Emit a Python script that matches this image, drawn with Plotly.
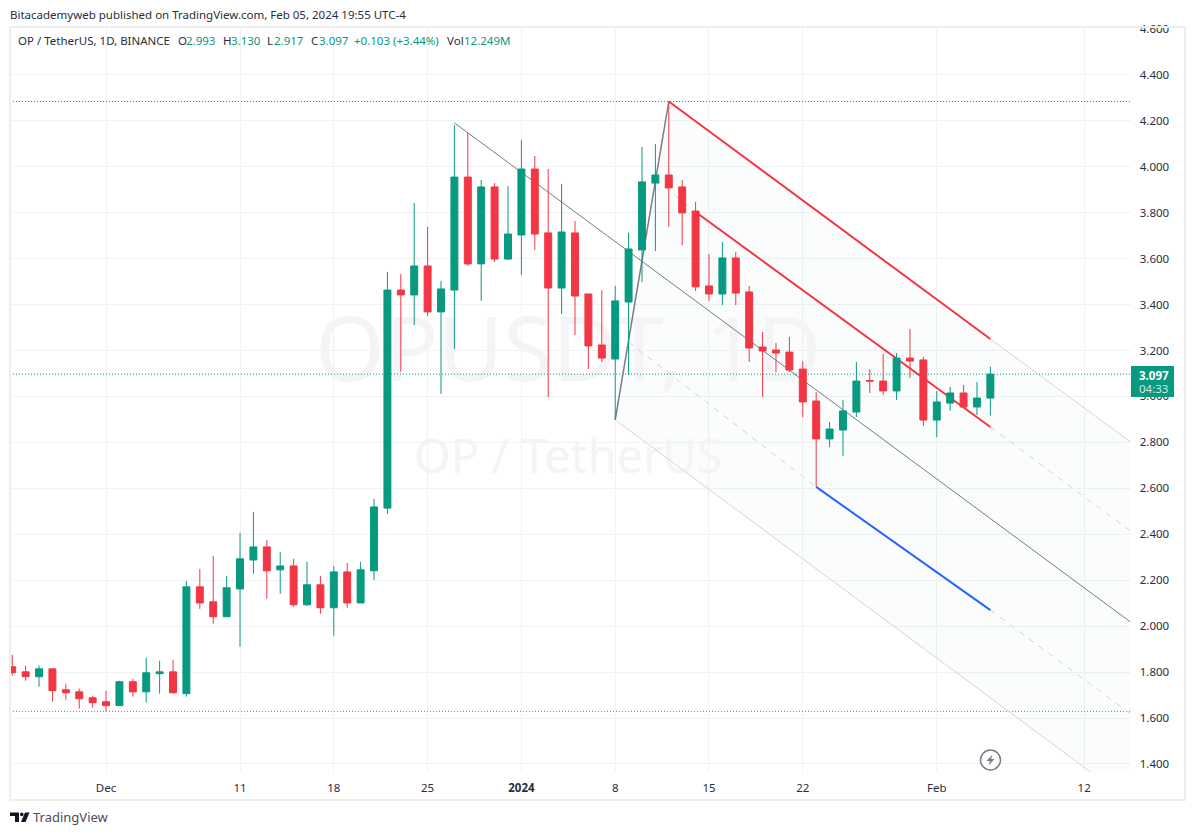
"""
OP / TetherUS daily candles with a pitchfork drawing, TradingView look
"""

import pandas as pd
import plotly.graph_objects as go

W, H = 1195, 835
UP = '#089981'
DOWN = '#F23645'
GRID = '#f1f2f4'
FRAME = '#eeeeee'
TEXT = '#2a2e39'
FONT = 'Noto Sans'

dates = pd.date_range('2023-11-24', periods=74, freq='D')
opens = [1.823, 1.801, 1.780, 1.814, 1.723, 1.714, 1.688, 1.671, 1.654, 1.758,
         1.714, 1.793, 1.801, 1.706, 2.171, 2.106, 2.041, 2.162, 2.288, 2.345,
         2.245, 2.262, 2.093, 2.180, 2.080, 2.236, 2.101, 2.241, 2.514, 3.463,
         3.442, 3.568, 3.368, 3.463, 3.955, 3.577, 3.912, 3.598, 3.703, 3.990,
         3.712, 3.472, 3.712, 3.446, 3.224, 3.163, 3.411, 3.638, 3.929, 3.964,
         3.912, 3.807, 3.481, 3.446, 3.603, 3.455, 3.215, 3.202, 3.193, 3.119,
         2.980, 2.815, 2.854, 2.932, 3.069, 3.067, 3.024, 3.167, 3.159, 2.897,
         2.971, 3.015, 2.954, 2.993]
highs = [1.875, 1.828, 1.828, 1.814, 1.749, 1.728, 1.697, 1.719, 1.762, 1.771,
         1.862, 1.849, 1.854, 2.197, 2.249, 2.306, 2.219, 2.406, 2.497, 2.375,
         2.323, 2.293, 2.280, 2.219, 2.262, 2.275, 2.280, 2.554, 3.542, 3.533,
         3.842, 3.738, 3.503, 4.182, 4.147, 3.942, 3.929, 3.916, 4.117, 4.047,
         3.990, 3.925, 3.764, 3.446, 3.463, 3.481, 3.712, 4.086, 4.099, 4.284,
         3.942, 3.847, 3.620, 3.672, 3.629, 3.481, 3.281, 3.233, 3.259, 3.154,
         3.019, 2.889, 2.984, 3.150, 3.119, 3.185, 3.189, 3.294, 3.172, 3.024,
         3.041, 3.050, 3.063, 3.130]
lows = [1.784, 1.762, 1.736, 1.671, 1.680, 1.641, 1.645, 1.629, 1.654, 1.693,
        1.667, 1.706, 1.706, 1.693, 2.075, 2.010, 2.041, 1.910, 2.228, 2.119,
        2.141, 2.084, 2.088, 2.054, 1.958, 2.080, 2.101, 2.201, 2.488, 3.108,
        3.311, 3.350, 3.011, 3.207, 3.568, 3.416, 3.585, 3.594, 3.529, 3.638,
        2.998, 3.359, 3.267, 3.119, 3.150, 2.900, 3.093, 3.498, 3.633, 3.738,
        3.659, 3.459, 3.416, 3.398, 3.398, 3.150, 2.998, 3.106, 3.106, 2.910,
        2.607, 2.780, 2.741, 2.910, 3.015, 3.006, 2.984, 3.080, 2.871, 2.823,
        2.937, 2.954, 2.919, 2.917]
closes = [1.797, 1.780, 1.814, 1.719, 1.710, 1.684, 1.667, 1.654, 1.758, 1.714,
          1.797, 1.801, 1.710, 2.171, 2.101, 2.041, 2.167, 2.293, 2.345, 2.241,
          2.262, 2.093, 2.180, 2.080, 2.236, 2.101, 2.245, 2.519, 3.463, 3.442,
          3.568, 3.368, 3.468, 3.955, 3.577, 3.912, 3.598, 3.707, 3.990, 3.707,
          3.472, 3.716, 3.437, 3.220, 3.167, 3.416, 3.642, 3.934, 3.964, 3.908,
          3.799, 3.477, 3.446, 3.603, 3.450, 3.211, 3.198, 3.189, 3.115, 2.976,
          2.815, 2.858, 2.937, 3.067, 3.067, 3.024, 3.167, 3.154, 2.897, 2.976,
          3.015, 2.954, 2.993, 3.097]

price_ticks = [1.4, 1.6, 1.8, 2.0, 2.2, 2.4, 2.6, 2.8, 3.0, 3.2, 3.4, 3.6, 3.8, 4.0, 4.2, 4.4, 4.6]
price_labels = ['1.400', '1.600', '1.800', '2.000', '2.200', '2.400', '2.600', '2.800', '3.000',
                '3.200', '3.400', '3.600', '3.800', '4.000', '4.200', '4.400', '4.600']
time_ticks = ['2023-12-01', '2023-12-11', '2023-12-18', '2023-12-25', '2024-01-01',
              '2024-01-08', '2024-01-15', '2024-01-22', '2024-02-01', '2024-02-12']
time_labels = ['Dec', '11', '18', '25', '<b>2024</b>', '8', '15', '22', 'Feb', '12']

x_range = ['2023-11-23 20:00', '2024-02-15 11:00']
y_range = [1.365, 4.604]

# drawing anchors
handle_x = ['2024-01-08', '2024-01-12']
handle_y = [2.898, 4.284]
median_x = ['2023-12-27', '2024-02-15 11:00']
median_y = [4.191, 2.018]
upper_x = ['2024-01-12', '2024-02-05']
upper_y = [4.284, 3.250]
upper_ext_x = ['2024-02-05', '2024-02-15 11:00']
upper_ext_y = [3.250, 2.802]
mid_x = ['2024-01-14', '2024-02-05']
mid_y = [3.803, 2.867]
mid_dash_x = ['2024-01-11', '2024-01-14']
mid_dash_y = [3.942, 3.803]
mid_ext_x = ['2024-02-05', '2024-02-15 11:00']
mid_ext_y = [2.867, 2.414]
low_x = ['2024-01-23', '2024-02-05']
low_y = [2.606, 2.070]
low_dash_x = ['2024-01-09', '2024-01-23']
low_dash_y = [3.237, 2.606]
low_ext_x = ['2024-02-05', '2024-02-15 11:00']
low_ext_y = [2.070, 1.618]
bottom_x = ['2024-01-08', '2024-02-15 11:00']
bottom_y = [2.898, 1.236]
fill_x = ['2024-01-08', '2024-01-12', '2024-02-15 11:00', '2024-02-15 11:00', '2024-01-08']
fill_y = [2.898, 4.284, 2.802, 1.236, 2.898]

high_level = 4.284
low_level = 1.629
last_price = 3.097

legend_items = ['OP / TetherUS, 1D, BINANCE', 'O', '2.993', 'H', '3.130', 'L', '2.917', 'C', '3.097',
                '+0.103 (+3.44%)', 'Vol', '12.249M']
legend_left = [18, 178, 186, 223, 231, 267, 274, 311, 319, 354, 447, 464]
legend_green = [False, False, True, False, True, False, True, False, True, True, False, True]


def px(x):
    return x / W


def py(y):
    return 1 - y / H


def add_line(fig, xs, ys, color, width=1, dash='solid'):
    fig.add_trace(go.Scatter(
        x=xs, y=ys, mode='lines',
        line=dict(color=color, width=width, dash=dash),
        hoverinfo='skip', showlegend=False
    ))


def add_label(fig, text, x, y, size=11.5, color=TEXT, anchor='left'):
    fig.add_annotation(
        text=text, x=px(x), y=py(y), xref='paper', yref='paper',
        xanchor=anchor, yanchor='middle', showarrow=False,
        borderpad=0, borderwidth=0,
        font=dict(family=FONT, size=size, color=color)
    )


fig = go.Figure()

# pale channel fill and the watermark sit under everything else
fig.add_trace(go.Scatter(
    x=fill_x, y=fill_y, mode='lines', fill='toself',
    fillcolor='rgba(8,153,129,0.015)', line=dict(width=0),
    hoverinfo='skip', showlegend=False
))
fig.add_trace(go.Scatter(
    x=['2024-01-04 12:00', '2024-01-04 12:00'], y=[3.165, 2.72], mode='text',
    text=['OPUSDT, 1D', 'OP / TetherUS'],
    textfont=dict(family=FONT, size=[89, 47], color='#f4f4f6'),
    textposition='middle center', hoverinfo='skip', showlegend=False
))

add_line(fig, [x_range[0], '2024-02-15 11:00'], [high_level, high_level], '#787b86', 1, '1px,2px')
add_line(fig, [x_range[0], '2024-02-15 11:00'], [low_level, low_level], '#787b86', 1, '1px,2px')
add_line(fig, upper_ext_x, upper_ext_y, '#d1d4dc')
add_line(fig, bottom_x, bottom_y, '#d1d4dc')
add_line(fig, mid_dash_x, mid_dash_y, '#d1d4dc', 1, '6px,6px')
add_line(fig, mid_ext_x, mid_ext_y, '#d1d4dc', 1, '6px,6px')
add_line(fig, low_dash_x, low_dash_y, '#d1d4dc', 1, '6px,6px')
add_line(fig, low_ext_x, low_ext_y, '#d1d4dc', 1, '6px,6px')
add_line(fig, median_x, median_y, '#787b86')
add_line(fig, handle_x, handle_y, '#787b86', 1.5)
add_line(fig, upper_x, upper_y, DOWN, 2)
add_line(fig, mid_x, mid_y, DOWN, 2)
add_line(fig, low_x, low_y, '#2962ff', 2)

# candles live on an overlaid axis pair so they paint above the drawing
fig.add_trace(go.Candlestick(
    x=dates, open=opens, high=highs, low=lows, close=closes,
    xaxis='x2', yaxis='y2', whiskerwidth=0,
    increasing=dict(line=dict(color=UP, width=1), fillcolor=UP),
    decreasing=dict(line=dict(color=DOWN, width=1), fillcolor=DOWN),
    hoverinfo='skip', showlegend=False
))

add_line(fig, [x_range[0], '2024-02-15 11:00'], [last_price, last_price], UP, 1, '1px,2px')

fig.update_layout(
    width=W, height=H,
    margin=dict(l=0, r=0, t=0, b=0),
    paper_bgcolor='white', plot_bgcolor='white',
    boxgap=0.26,
    showlegend=False,
    font=dict(family=FONT, size=11.5, color=TEXT),
    xaxis=dict(
        domain=[px(10), px(1130.5)], range=x_range, type='date',
        tickmode='array', tickvals=time_ticks, ticktext=time_labels,
        showgrid=True, gridcolor=GRID, gridwidth=1, automargin=False,
        zeroline=False, showline=False, ticks='outside', ticklen=5,
        tickcolor='rgba(0,0,0,0)', anchor='y',
        rangeslider=dict(visible=False)
    ),
    yaxis=dict(
        domain=[py(772), py(28)], range=y_range, side='right',
        tickmode='array', tickvals=price_ticks, ticktext=price_labels,
        showgrid=True, gridcolor=GRID, gridwidth=1, automargin=False,
        zeroline=False, showline=False, ticks='outside', ticklen=6,
        tickcolor='rgba(0,0,0,0)', anchor='x'
    ),
    xaxis2=dict(
        overlaying='x', range=x_range, type='date', visible=False, automargin=False,
        anchor='y2', rangeslider=dict(visible=False)
    ),
    yaxis2=dict(overlaying='y', range=y_range, visible=False, automargin=False, anchor='x2'),
)

# outer frame, last price tag, TradingView mark and the flash icon
fig.add_shape(type='rect', xref='paper', yref='paper', x0=px(10), x1=px(1185), y0=py(800), y1=py(27),
              line=dict(color=FRAME, width=2), layer='above')
fig.add_shape(type='rect', xref='paper', yref='paper', x0=px(1131), x1=px(1174), y0=py(397), y1=py(366),
              fillcolor=UP, line=dict(width=0), layer='above')
fig.add_shape(type='circle', xref='paper', yref='paper', x0=px(980.5), x1=px(1000.5), y0=py(770), y1=py(750),
              fillcolor='white', line=dict(color='#787b86', width=1.5), layer='above')
fig.add_shape(type='path', xref='paper', yref='paper', layer='above', fillcolor='#787b86', line=dict(width=0),
              path=(f'M {px(992.5)} {py(754.5)} L {px(986.5)} {py(761)} L {px(990)} {py(761)} '
                    f'L {px(988.5)} {py(765.5)} L {px(994.5)} {py(759)} L {px(991)} {py(759)} Z'))
fig.add_shape(type='path', xref='paper', yref='paper', layer='above', fillcolor='#131722', line=dict(width=0),
              path=(f'M {px(10)} {py(812.5)} L {px(19)} {py(812.5)} L {px(19)} {py(822)} L {px(15)} {py(822)} '
                    f'L {px(15)} {py(816)} L {px(10)} {py(816)} Z '
                    f'M {px(25)} {py(812.5)} L {px(29.5)} {py(812.5)} L {px(25.5)} {py(822)} L {px(21)} {py(822)} Z'))
fig.add_shape(type='circle', xref='paper', yref='paper', layer='above', fillcolor='#131722', line=dict(width=0),
              x0=px(20), x1=px(23.6), y0=py(816.2), y1=py(812.6))

add_label(fig, 'Bitacademyweb published on TradingView.com, Feb 05, 2024 19:55 UTC-4', 10, 14)
for item, left, green in zip(legend_items, legend_left, legend_green):
    add_label(fig, item, left, 41, color=UP if green else TEXT)
add_label(fig, '<b>3.097</b>', 1139, 375, color='white')
add_label(fig, '04:33', 1139, 388, color='#cfe9e4')
add_label(fig, 'TradingView', 33, 817, size=13, color='#4a4e59')

fig.write_html('out.html', config={'displayModeBar': False},
               post_script="document.body.style.margin='0';")
